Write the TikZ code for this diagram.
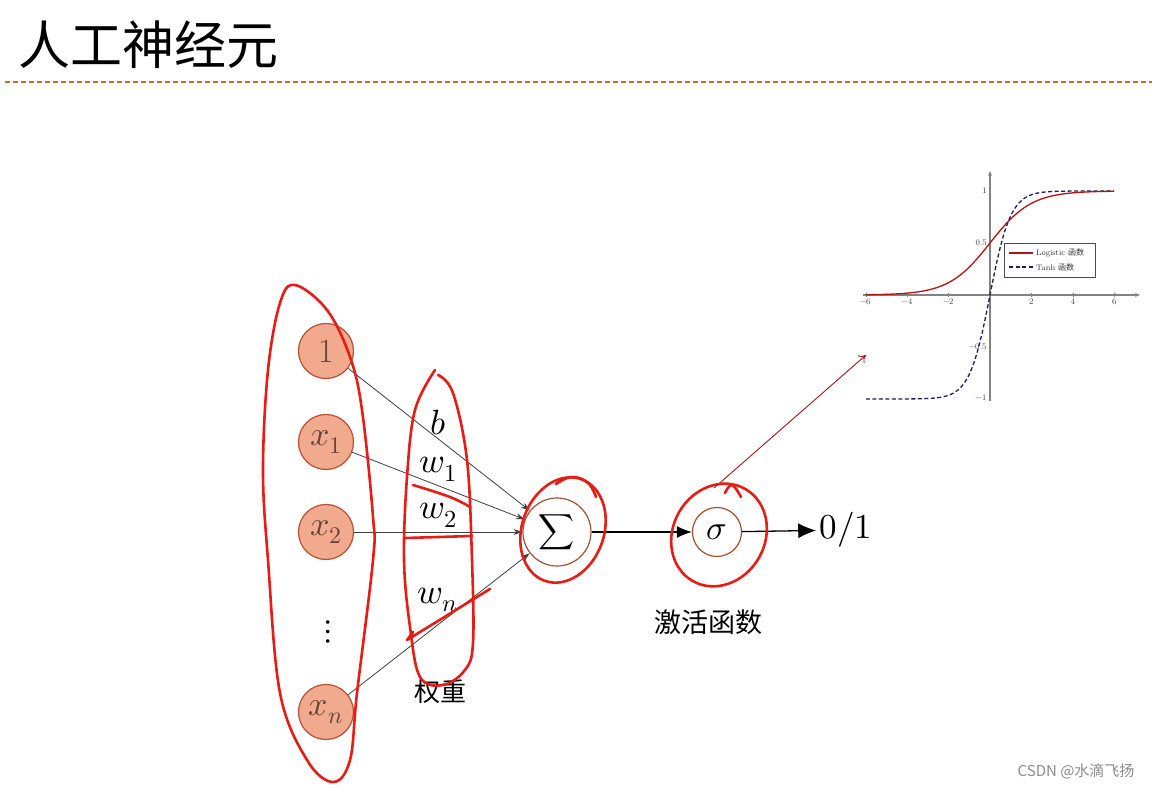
\documentclass[tikz,border=0pt]{standalone}
\usepackage{fontspec}
\usepackage{unicode-math}
\newfontfamily\cjk{Noto Sans CJK SC}
\usetikzlibrary{arrows.meta}
\definecolor{inp}{RGB}{242,170,142}
\definecolor{inpdraw}{RGB}{185,80,50}
\definecolor{inptext}{RGB}{100,70,55}
\definecolor{brownc}{RGB}{165,80,50}
\definecolor{ann}{RGB}{232,28,20}
\definecolor{darkred}{RGB}{170,20,20}
\definecolor{navy}{RGB}{30,30,90}
\definecolor{axisg}{RGB}{130,130,130}
\definecolor{rule}{RGB}{205,110,30}
\tikzset{
  inputnode/.style={circle,minimum size=55pt,inner sep=0pt,fill=inp,draw=inpdraw,line width=1.2pt,text=inptext,font=\fontsize{34}{38}\selectfont},
  opnode/.style={circle,inner sep=0pt,draw=brownc,line width=1.2pt,fill=white},
  wlabel/.style={font=\fontsize{35}{40}\selectfont},
  inarrow/.style={draw=black!75,line width=0.8pt,-{Stealth[length=9pt,width=6pt]}},
  annot/.style={draw=ann,line width=2.6pt,line cap=round,line join=round},
  ticklab/.style={font=\fontsize{8.5}{9}\selectfont,text=black!75,inner sep=1pt}
}
\begin{document}
\begin{tikzpicture}[x=1pt,y=-1pt]
\useasboundingbox (0,0) rectangle (1152,789);
\fill[white] (0,0) rectangle (1152,789);
% title
\node[anchor=west,font=\cjk\fontsize{52}{58}\selectfont,inner sep=0pt] (title) at (18,45) {人工神经元};
\draw[rule,line width=1.2pt,dash pattern=on 5pt off 3pt] (5,82) -- (1152,82);

% inputs
\node[inputnode] (n1) at (326,351) {1};
\node[inputnode] (x1) at (326,442) {$x_1$};
\node[inputnode] (x2) at (326,532) {$x_2$};
\node[font=\fontsize{34}{38}\selectfont] (dots) at (328,632) {$\vdots$};
\node[inputnode] (xn) at (326,712) {$x_n$};

% operator nodes
\node[opnode,minimum size=68pt] (sum) at (557,532) {\fontsize{25}{30}\selectfont$\displaystyle\sum$};
\node[opnode,minimum size=49pt] (sig) at (717,532) {\fontsize{34}{38}\selectfont$\sigma$};
\node[font=\fontsize{35}{40}\selectfont] (out) at (846,530) {$0/1$};

% weight labels
\node[wlabel] (lb) at (438,423) {$b$};
\node[wlabel] (lw1) at (438,469) {$w_1$};
\node[wlabel] (lw2) at (438,515) {$w_2$};
\node[wlabel] (lwn) at (438,600) {$w_n$};
\node[font=\cjk\fontsize{26}{30}\selectfont] (wt) at (440,692) {权重};
\node[font=\cjk\fontsize{27}{30}\selectfont] (act) at (708,622) {激活函数};

% connectors
\draw[inarrow] (n1) -- (sum);
\draw[inarrow] (x1) -- (sum);
\draw[inarrow] (x2) -- (sum);
\draw[inarrow] (xn) -- (sum);
\draw[line width=1.3pt,-{Latex[length=15pt,width=12pt]}] (sum) -- (sig);
\draw[line width=1.3pt,-{Latex[length=18pt,width=15pt]}] (sig) -- (out);

% graph
\coordinate (gfrom) at (714,488);
\coordinate (gto) at (866,355);
\draw[darkred,line width=0.9pt,-{To[length=7pt,width=10pt]}] (gfrom) -- (gto);
\draw[axisg,line width=1.3pt,-{Stealth[length=5pt,width=4pt]}] (863,295) -- (1140,295);
\draw[axisg,line width=1.3pt,-{Stealth[length=5pt,width=4pt]}] (990,401) -- (990,171);
\foreach \v/\l in {-6/$-6$,-4/$-4$,-2/$-2$,2/2,4/4,6/6}{
  \node[ticklab,anchor=north] at ({990+20.7*\v},298) {\l};
  \draw[axisg,line width=0.6pt] ({990+20.7*\v},293) -- ({990+20.7*\v},297);
}
\node[ticklab,anchor=east] at (988,191) {1};
\node[ticklab,anchor=east] at (988,243) {0.5};
\node[ticklab,anchor=east] at (988,347) {$-0.5$};
\node[ticklab,anchor=east] at (988,398) {$-1$};
\draw[navy,line width=1.3pt,dash pattern=on 4pt off 2.5pt] plot[domain=-6:6,samples=121,smooth] ({990+20.7*\x},{295-104*tanh(\x)});
\draw[darkred!90!red,line width=1.3pt] plot[domain=-6:6,samples=121,smooth] ({990+20.7*\x},{295-104/(1+exp(-\x))});
\draw[fill=white,draw=black!70,line width=0.8pt] (1004,243) rectangle (1095,277);
\draw[darkred!90!red,line width=1.3pt] (1009,253) -- (1033,253);
\draw[navy,line width=1.3pt,dash pattern=on 4pt off 2.5pt] (1009,267) -- (1033,267);
\node[anchor=west,inner sep=0pt,font=\fontsize{8}{9}\selectfont,text=black!80] (lg1) at (1036,253) {Logistic {\cjk 函数}};
\node[anchor=west,inner sep=0pt,font=\fontsize{8}{9}\selectfont,text=black!80] (lg2) at (1036,267) {Tanh {\cjk 函数}};

% hand-drawn annotations
\draw[annot] plot[smooth cycle,tension=0.6] coordinates {
  (295,285) (327,310) (350,357) (362,410) (373,517) (373,560) (357,693) (350,760) (333,782)
  (307,760) (280,693) (268,560) (263,470) (268,370) (280,303)};
\draw[annot] plot[smooth,tension=0.6] coordinates {
  (438,375) (453,393) (467,460) (472,560) (473,643) (465,670) (443,685) (420,677) (410,627) (404,560) (407,477) (415,410) (435,370)};
\draw[annot] plot[smooth,tension=0.7] coordinates {(413,485) (450,497) (470,507)};
\draw[annot] (405,538) -- (472,536);
\draw[annot] (490,589) -- (407,640) -- (413,632);
\draw[annot,rotate around={-20:(563,530)}] (563,530) ellipse [x radius=41pt,y radius=54pt];
\draw[annot] plot[smooth,tension=0.7] coordinates {(556,484) (572,477) (588,483) (596,497)};
\draw[annot,rotate around={-30:(719,535)}] (719,535) ellipse [x radius=46pt,y radius=53pt];
\draw[annot] plot[smooth,tension=0.7] coordinates {(725,493) (732,485) (741,497)};

% watermark
\node[font=\cjk\fontsize{15}{18}\selectfont,text=black!45,anchor=east] (wm) at (1138,771) {CSDN @水滴飞扬};
\end{tikzpicture}
\end{document}
